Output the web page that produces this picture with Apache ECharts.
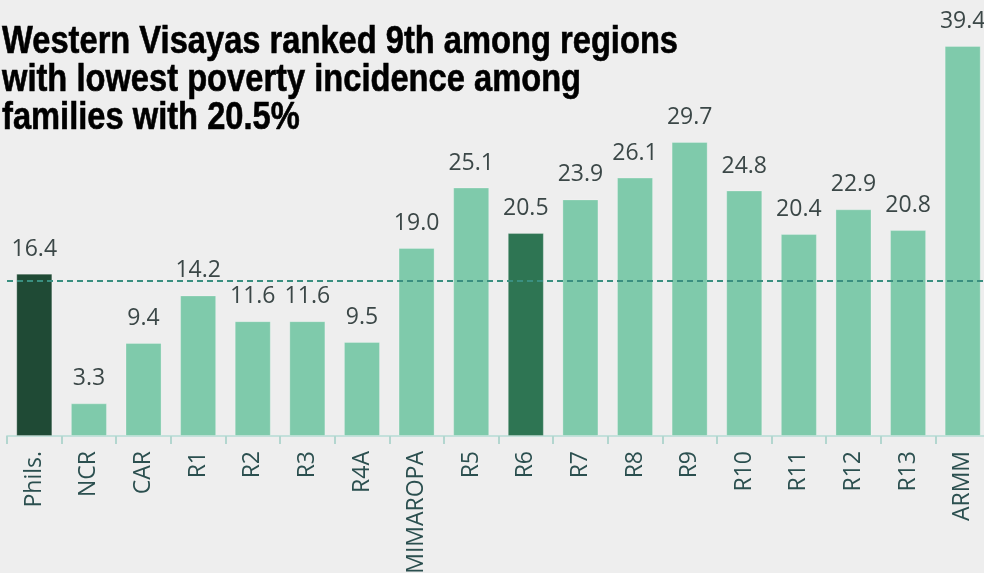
<!DOCTYPE html>
<html>
<head>
<meta charset="utf-8">
<script src="https://cdn.jsdelivr.net/npm/echarts@6/dist/echarts.min.js"></script>
<style>
  html, body { margin: 0; padding: 0; background: #eeeeee; }
  #chart { width: 984px; height: 573px; }
</style>
</head>
<body>
<div id="chart"></div>
<script>
const regions = ['Phils.', 'NCR', 'CAR', 'R1', 'R2', 'R3', 'R4A', 'MIMAROPA', 'R5', 'R6',
  'R7', 'R8', 'R9', 'R10', 'R11', 'R12', 'R13', 'ARMM'];
const incidence = [16.4, 3.3, 9.4, 14.2, 11.6, 11.6, 9.5, 19.0, 25.1, 20.5,
  23.9, 26.1, 29.7, 24.8, 20.4, 22.9, 20.8, 39.4];
const nationalLine = 15.7;
const titleLines = [
  'Western Visayas ranked 9th among regions',
  'with lowest poverty incidence among',
  'families with 20.5%',
];

const LIGHT = '#7fcaab';
const barColor = name => name === 'Phils.' ? '#1f4a35' : name === 'R6' ? '#2e7553' : LIGHT;

// the reference title uses a condensed bold face; squeeze a regular bold one to the same width
const TITLE_FONT = 'bold 38px "Liberation Sans", Arial, sans-serif';
const ctx = document.createElement('canvas').getContext('2d');
ctx.font = TITLE_FONT;
const squeeze = 676 / ctx.measureText(titleLines[0]).width;

const chart = echarts.init(document.getElementById('chart'), null, { renderer: 'canvas' });
chart.setOption({
  backgroundColor: '#eeeeee',
  animation: false,
  graphic: titleLines.map((line, i) => ({
    type: 'text',
    x: 2,
    y: 24 + i * 38,
    scaleX: squeeze,
    style: { text: line, font: TITLE_FONT, fill: '#000000', stroke: '#000000', lineWidth: 0.6, verticalAlign: 'top' },
  })),
  // MIMAROPA runs off the bottom in the original, so don't let the grid shrink to fit it
  grid: { left: 7, right: -6, top: 40, bottom: 137, containLabel: false, outerBoundsMode: 'none' },
  xAxis: {
    type: 'category',
    data: regions,
    axisLine: { lineStyle: { color: '#c3e0db', width: 2 } },
    axisTick: { show: true, length: 8, lineStyle: { color: '#b3d6cf', width: 2 } },
    axisLabel: {
      rotate: 90,
      margin: 15,
      fontFamily: "'Open Sans', sans-serif",
      fontSize: 23,
      color: '#2b4f4f',
      interval: 0,
    },
  },
  yAxis: {
    type: 'value',
    min: 0,
    max: 40,
    show: false,
    splitLine: { show: false },
  },
  series: [{
    type: 'bar',
    barCategoryGap: '34%',
    data: regions.map((r, i) => ({
      value: incidence[i],
      itemStyle: { color: barColor(r) },
    })),
    itemStyle: { borderColor: 'rgba(255,255,255,0.25)', borderWidth: 1 },
    label: {
      show: true,
      position: 'top',
      distance: 13,
      fontFamily: "'Open Sans', sans-serif",
      fontSize: 23,
      color: '#3b4747',
      formatter: p => p.value.toFixed(1),
    },
    markLine: {
      silent: true,
      symbol: 'none',
      label: { show: false },
      lineStyle: { color: '#3a8f80', width: 2, type: [6, 4] },
      data: [{ yAxis: nationalLine }],
    },
  }],
});
</script>
</body>
</html>
